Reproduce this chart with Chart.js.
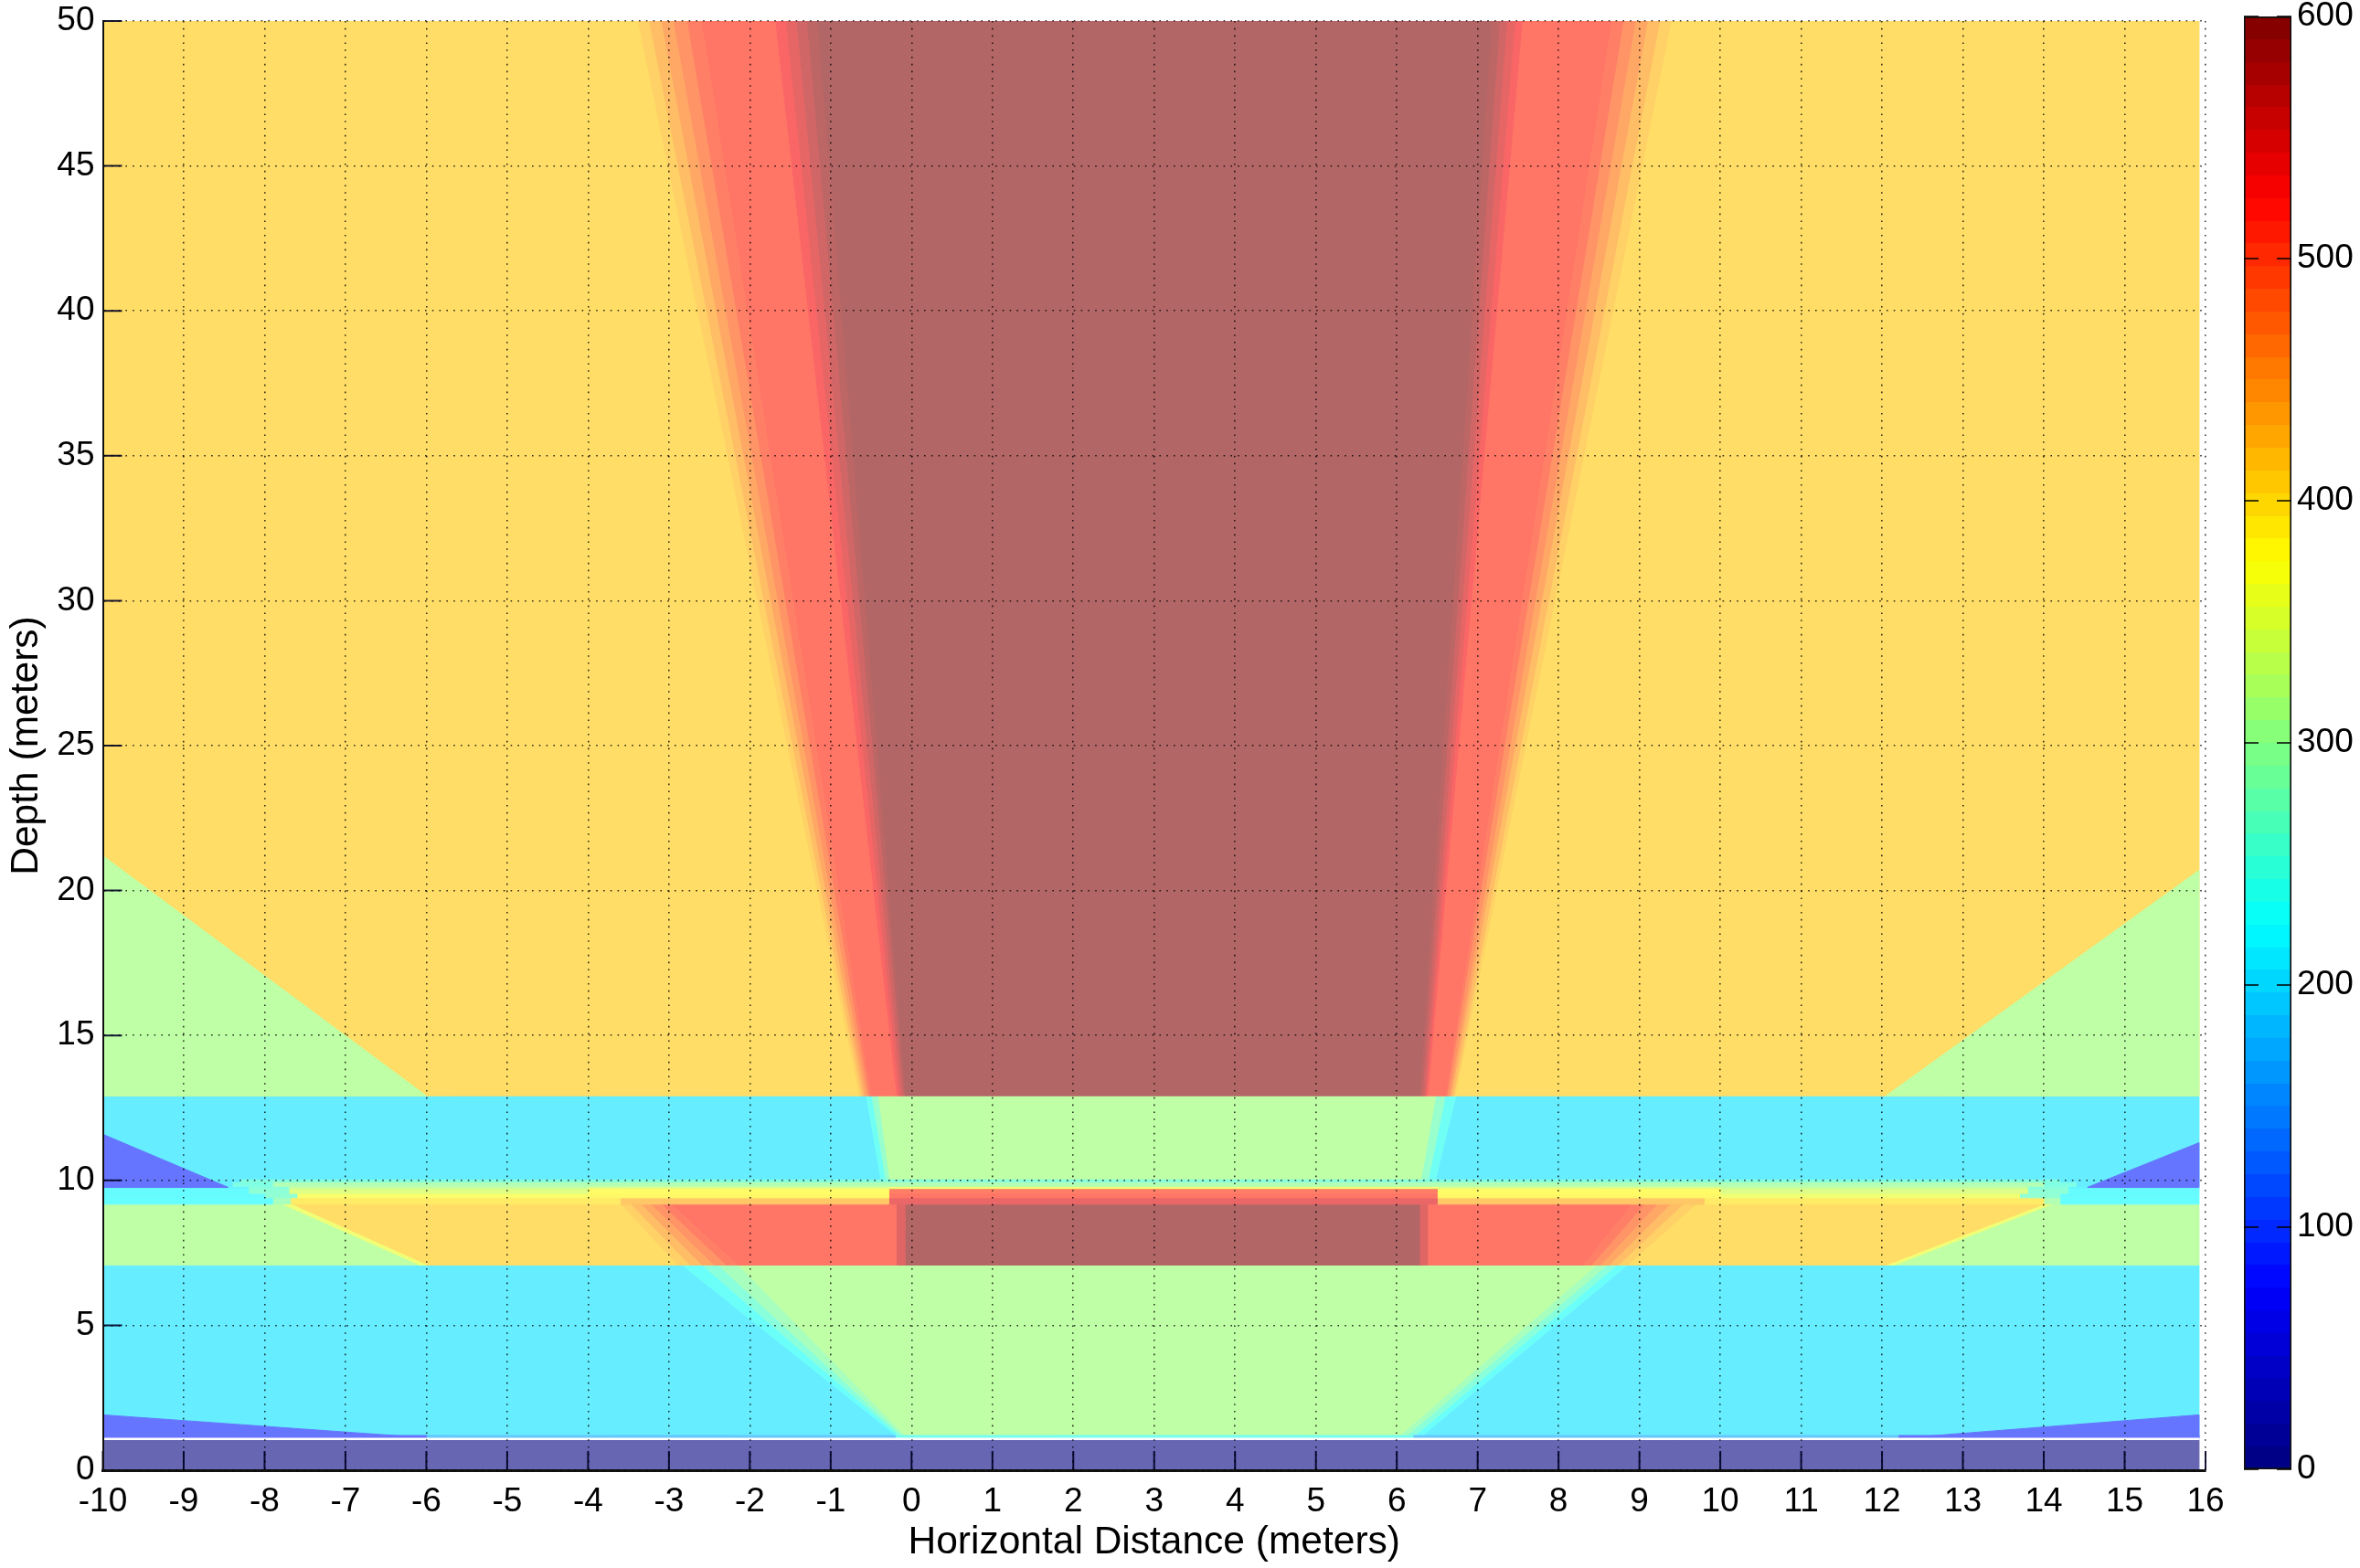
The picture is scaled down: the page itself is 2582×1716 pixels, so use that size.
<!DOCTYPE html>
<html><head><meta charset="utf-8">
<script src="https://cdn.jsdelivr.net/npm/chart.js@4"></script>
<style>html,body{margin:0;padding:0;background:#fff;width:2582px;height:1716px;overflow:hidden}
canvas{position:absolute;top:0}</style></head>
<body>
<canvas id="heat" width="2582" height="1716" style="left:0"></canvas>
<canvas id="cbar" width="142" height="1716" style="left:2440px"></canvas>
<script>
// Data. Each band spans depth [low, high]; xLow / xHigh are the horizontal
// break points at the band's lower and upper depth; v is the value of each cell between them.
const xEnd = 15.92;
const upper = {low:12.92, high:50,
  xLow:[-10,-0.65,-0.62,-0.59,-0.56,-0.53,-0.5,-0.19,-0.16,-0.13,-0.1,-0.08,6.28,6.31,6.34,6.36,6.38,6.6,6.62,6.65,6.67,6.7,6.72,xEnd],
  xHigh:[-10,-3.39,-3.25,-3.1,-2.95,-2.78,-2.6,-1.69,-1.56,-1.43,-1.3,-1.17,7.17,7.27,7.36,7.46,7.55,8.65,8.8,8.95,9.1,9.25,9.39,xEnd],
  v:[408,420,440,460,480,500,510,530,550,570,590,600,590,570,550,530,510,500,480,460,440,420,408]};
const band10to13 = {low:10.05, high:12.92,
  xLow:[-10,-0.39,-0.33,-0.28,6.3,6.39,6.48,xEnd],
  xHigh:[-10,-0.57,-0.5,-0.42,6.48,6.6,6.73,xEnd],
  v:[207,235,275,312,275,235,207]};
const strip1 = {low:9.95, high:10.05,
  xLow:[-10,-8.3,14.2,xEnd], xHigh:[-10,-8.3,14.2,xEnd],
  v:[207,255,207]};
const strip2 = {low:9.8, high:9.95,
  xLow:[-10,-8.4,-7.9,14,14.4,xEnd], xHigh:[-10,-8.4,-7.9,14,14.4,xEnd],
  v:[207,250,300,250,207]};
const strip3 = {low:9.72, high:9.8,
  xLow:[-10,-8.2,-7.7,-4,-0.28,6.5,10,13.8,14.3,xEnd], xHigh:[-10,-8.2,-7.7,-4,-0.28,6.5,10,13.8,14.3,xEnd],
  v:[215,260,320,345,360,345,320,260,215]};
const strip4 = {low:9.55, high:9.72,
  xLow:[-10,-8.2,-7.7,-4,-0.28,6.5,10,13.8,14.3,xEnd], xHigh:[-10,-8.2,-7.7,-4,-0.28,6.5,10,13.8,14.3,xEnd],
  v:[222,265,345,378,500,378,340,265,222]};
const strip5 = {low:9.4, high:9.55,
  xLow:[-10,-8,-7.6,-4,-0.28,6.5,10,13.7,14.2,xEnd], xHigh:[-10,-8,-7.6,-4,-0.28,6.5,10,13.7,14.2,xEnd],
  v:[222,268,370,382,510,382,362,268,222]};
const strip6 = {low:9.18, high:9.4,
  xLow:[-10,-7.9,-7.68,-3.6,-0.28,6.5,9.8,14,14.2,xEnd], xHigh:[-10,-7.9,-7.68,-3.6,-0.28,6.5,9.8,14,14.2,xEnd],
  v:[225,290,395,430,545,430,395,300,225]};
const band7to9 = {low:7.08, high:9.18,
  xLow:[-10,-6.1,-6.0,-2.9,-2.75,-2.6,-2.45,-2.3,-2.15,-0.19,-0.08,6.28,6.38,8.3,8.41,8.52,8.63,8.74,8.85,12.05,12.15,xEnd],
  xHigh:[-10,-7.8,-7.68,-3.6,-3.48,-3.35,-3.23,-3.1,-2.98,-0.19,-0.08,6.28,6.38,8.9,9.06,9.22,9.38,9.54,9.7,14.0,14.1,xEnd],
  v:[312,360,408,420,440,460,480,500,510,555,600,555,510,500,480,460,440,420,408,360,312]};
const band1to7 = {low:1.23, high:7.08,
  xLow:[-10,-0.22,-0.18,-0.14,-0.1,6.05,6.14,6.24,6.33,xEnd],
  xHigh:[-10,-2.85,-2.6,-2.4,-2.15,8.47,8.6,8.72,8.85,xEnd],
  v:[207,230,260,290,312,290,260,230,207]};
const thinStrip = {low:1.1, high:1.23,
  xLow:[-10,-6,-0.2,6.2,12.2,xEnd], xHigh:[-10,-6,-0.2,6.2,12.2,xEnd],
  v:[90,170,240,170,90]};
const bottom = {low:0, high:1.05,
  xLow:[-10,xEnd], xHigh:[-10,xEnd], v:[0]};
const bands = [upper,band10to13,strip1,strip2,strip3,strip4,strip5,strip6,band7to9,band1to7,thinStrip,bottom];

const wedgeLeftGreen  = {low:12.92, high:21.2, xLow:[-10,-6.0],   xHigh:[-10,-10],   v:[312]};
const wedgeRightGreen = {low:12.92, high:20.7, xLow:[12.05,xEnd], xHigh:[xEnd,xEnd], v:[312]};
const wedgeLeftBlue   = {low:9.76,  high:11.59,xLow:[-10,-8.45],  xHigh:[-10,-10],   v:[90]};
const wedgeRightBlue  = {low:9.76,  high:11.3, xLow:[14.54,xEnd], xHigh:[xEnd,xEnd], v:[90]};
const wedgeLowLeft    = {low:1.12,  high:1.91, xLow:[-10,-6],     xHigh:[-10,-10],   v:[90]};
const wedgeLowRight   = {low:1.12,  high:1.91, xLow:[12.3,xEnd],  xHigh:[xEnd,xEnd], v:[90]};
const wedges = [wedgeLeftGreen,wedgeRightGreen,wedgeLeftBlue,wedgeRightBlue,wedgeLowLeft,wedgeLowRight];

const whiteLineDepth = 1.08;
const colorbarRange = [0,600];

// jet colormap
function jet(val){
  const t = val/600;
  const c = f => Math.max(0,Math.min(1,f));
  return [c(Math.min(4*t-1.5,-4*t+4.5)), c(Math.min(4*t-0.5,-4*t+3.5)), c(Math.min(4*t+0.5,-4*t+2.5))];
}
const toRgb = a => 'rgb('+a.map(q=>Math.round(q*255)).join(',')+')';
const paled = val => toRgb(jet(val).map(q=>q*0.6+0.4));   // 60% opacity over white

function cellsOf(band, order){
  return band.v.map((val,i)=>({
    data:[{x:band.xLow[i],y:band.low},{x:band.xLow[i+1],y:band.low},
          {x:band.xHigh[i+1],y:band.high},{x:band.xHigh[i],y:band.high},{x:band.xLow[i],y:band.low}],
    showLine:true, fill:'shape', backgroundColor:paled(val), borderColor:paled(val), borderWidth:1,
    pointRadius:0, tension:0, order
  }));
}
const datasets = [];
bands.forEach(b=>datasets.push(...cellsOf(b,2)));
wedges.forEach(b=>datasets.push(...cellsOf(b,1)));
datasets.push({data:[{x:-10,y:whiteLineDepth},{x:xEnd,y:whiteLineDepth}],showLine:true,fill:false,
  borderColor:'#fff',borderWidth:2.5,pointRadius:0,order:0});

const TICK_FONT = {family:'"Liberation Sans", Arial, sans-serif', size:37};
const TITLE_FONT = {family:'"Liberation Sans", Arial, sans-serif', size:42.5};

const innerTicks = {
  id:'innerTicks',
  afterDatasetsDraw(chart,_a,opts){
    const ctx = chart.ctx, a = chart.chartArea;
    ctx.save(); ctx.strokeStyle = opts.color; ctx.lineWidth = opts.width;
    ctx.beginPath();
    if(chart.scales.x && opts.x){
      chart.scales.x.ticks.forEach((_t,i)=>{const p=chart.scales.x.getPixelForTick(i);
        ctx.moveTo(p,a.bottom); ctx.lineTo(p,a.bottom-opts.len);});
    }
    chart.scales.y.ticks.forEach((_t,i)=>{const p=chart.scales.y.getPixelForTick(i);
      ctx.moveTo(a.left,p); ctx.lineTo(a.left+opts.len,p);
      if(opts.both){ctx.moveTo(a.right,p); ctx.lineTo(a.right-opts.len,p);}
    });
    ctx.stroke(); ctx.restore();
  }
};

new Chart(document.getElementById('heat'),{
  type:'scatter',
  data:{datasets},
  plugins:[innerTicks],
  options:{
    responsive:false, animation:false, devicePixelRatio:1,
    layout:{padding:{top:23,right:169,left:0,bottom:0}},
    plugins:{legend:{display:false},tooltip:{enabled:false},innerTicks:{color:'rgba(0,0,40,.9)',width:2,len:21,x:true}},
    scales:{
      x:{type:'linear',min:-10,max:16,
        ticks:{stepSize:1,color:'#000',font:TICK_FONT,maxRotation:0,autoSkip:false,padding:13,includeBounds:true},
        grid:{color:'rgba(0,0,0,.8)',lineWidth:1.6,z:1,drawTicks:false},
        border:{dash:[1.6,6.2],color:'#111',width:3,z:1},
        title:{display:true,text:'Horizontal Distance (meters)',color:'#000',font:TITLE_FONT,padding:{top:0,bottom:2}},
        afterFit(s){s.height=107;s.paddingLeft=0;s.paddingRight=0;}
      },
      y:{type:'linear',min:0,max:50,
        ticks:{stepSize:5,color:'#000',font:TICK_FONT,padding:9,autoSkip:false},
        grid:{color:'rgba(0,0,0,.8)',lineWidth:1.6,z:1,drawTicks:false},
        border:{dash:[1.6,6.2],color:'#111',width:2,z:1},
        title:{display:true,text:'Depth (meters)',color:'#000',font:TITLE_FONT,padding:{top:4,bottom:0}},
        afterFit(s){s.width=112.5;s.paddingTop=0;s.paddingBottom=0;}
      }
    }
  }
});

new Chart(document.getElementById('cbar'),{
  type:'bar',
  data:{labels:['colorbar'],datasets:[{
    data:[colorbarRange],
    barPercentage:1,categoryPercentage:1,borderWidth:2,borderColor:'#111',borderSkipped:false,
    backgroundColor(ctx){
      const a = ctx.chart.chartArea; if(!a) return '#000';
      const g = ctx.chart.ctx.createLinearGradient(0,a.bottom,0,a.top);
      const n = 64;
      for(let i=0;i<n;i++){
        const col = toRgb(jet((i+0.5)*600/n));
        g.addColorStop(i/n,col); g.addColorStop((i+1)/n,col);
      }
      return g;
    }
  }]},
  plugins:[innerTicks],
  options:{
    responsive:false, animation:false, devicePixelRatio:1,
    layout:{padding:{top:18,left:15,right:0,bottom:108}},
    plugins:{legend:{display:false},tooltip:{enabled:false},innerTicks:{color:'rgba(0,0,0,.75)',width:2,len:16,x:false,both:true}},
    scales:{
      x:{display:false},
      y:{position:'right',min:0,max:600,
        ticks:{stepSize:100,color:'#000',font:TICK_FONT,padding:6},
        grid:{display:false,drawTicks:false},border:{display:false},
        afterFit(s){s.width=75;s.paddingTop=0;s.paddingBottom=0;}
      }
    }
  }
});
</script>
</body></html>
